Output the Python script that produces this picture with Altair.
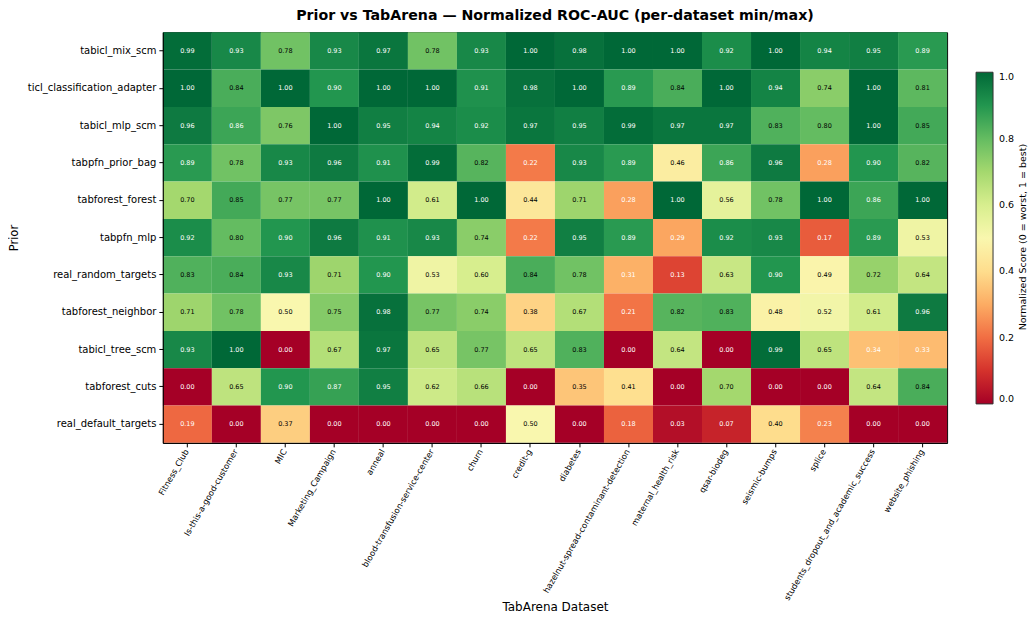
import altair as alt
import pandas as pd

datasets = ["Fitness_Club", "Is-this-a-good-customer", "MIC", "Marketing_Campaign", "anneal",
            "blood-transfusion-service-center", "churn", "credit-g", "diabetes",
            "hazelnut-spread-contaminant-detection", "maternal_health_risk", "qsar-biodeg",
            "seismic-bumps", "splice", "students_dropout_and_academic_success", "website_phishing"]

priors = ["tabicl_mix_scm", "ticl_classification_adapter", "tabicl_mlp_scm", "tabpfn_prior_bag",
          "tabforest_forest", "tabpfn_mlp", "real_random_targets", "tabforest_neighbor",
          "tabicl_tree_scm", "tabforest_cuts", "real_default_targets"]

tabicl_mix_scm = [0.99, 0.93, 0.78, 0.93, 0.97, 0.78, 0.93, 1.00, 0.98, 1.00, 1.00, 0.92, 1.00, 0.94, 0.95, 0.89]
ticl_classification_adapter = [1.00, 0.84, 1.00, 0.90, 1.00, 1.00, 0.91, 0.98, 1.00, 0.89, 0.84, 1.00, 0.94, 0.74, 1.00, 0.81]
tabicl_mlp_scm = [0.96, 0.86, 0.76, 1.00, 0.95, 0.94, 0.92, 0.97, 0.95, 0.99, 0.97, 0.97, 0.83, 0.80, 1.00, 0.85]
tabpfn_prior_bag = [0.89, 0.78, 0.93, 0.96, 0.91, 0.99, 0.82, 0.22, 0.93, 0.89, 0.46, 0.86, 0.96, 0.28, 0.90, 0.82]
tabforest_forest = [0.70, 0.85, 0.77, 0.77, 1.00, 0.61, 1.00, 0.44, 0.71, 0.28, 1.00, 0.56, 0.78, 1.00, 0.86, 1.00]
tabpfn_mlp = [0.92, 0.80, 0.90, 0.96, 0.91, 0.93, 0.74, 0.22, 0.95, 0.89, 0.29, 0.92, 0.93, 0.17, 0.89, 0.53]
real_random_targets = [0.83, 0.84, 0.93, 0.71, 0.90, 0.53, 0.60, 0.84, 0.78, 0.31, 0.13, 0.63, 0.90, 0.49, 0.72, 0.64]
tabforest_neighbor = [0.71, 0.78, 0.50, 0.75, 0.98, 0.77, 0.74, 0.38, 0.67, 0.21, 0.82, 0.83, 0.48, 0.52, 0.61, 0.96]
tabicl_tree_scm = [0.93, 1.00, 0.00, 0.67, 0.97, 0.65, 0.77, 0.65, 0.83, 0.00, 0.64, 0.00, 0.99, 0.65, 0.34, 0.33]
tabforest_cuts = [0.00, 0.65, 0.90, 0.87, 0.95, 0.62, 0.66, 0.00, 0.35, 0.41, 0.00, 0.70, 0.00, 0.00, 0.64, 0.84]
real_default_targets = [0.19, 0.00, 0.37, 0.00, 0.00, 0.00, 0.00, 0.50, 0.00, 0.18, 0.03, 0.07, 0.40, 0.23, 0.00, 0.00]

rows_values = [tabicl_mix_scm, ticl_classification_adapter, tabicl_mlp_scm, tabpfn_prior_bag,
               tabforest_forest, tabpfn_mlp, real_random_targets, tabforest_neighbor,
               tabicl_tree_scm, tabforest_cuts, real_default_targets]

colorbar_title = "Normalized Score (0 = worst, 1 = best)"
colorbar_ticks = [0, 0.2, 0.4, 0.6, 0.8, 1.0]

records = []
for p, vals in zip(priors, rows_values):
    for d, v in zip(datasets, vals):
        records.append({"prior": p, "dataset": d, "score": v, "label": f"{v:.2f}"})
df = pd.DataFrame(records)

FONT = "DejaVu Sans"

x_enc = alt.X("dataset:N", sort=datasets, title="TabArena Dataset",
              scale=alt.Scale(paddingInner=0, paddingOuter=0),
              axis=alt.Axis(labelAngle=300, labelAlign="right", labelBaseline="middle",
                            labelFontSize=8.3, titleFontSize=12, tickSize=4,
                            labelPadding=3, titleY=168, titleBaseline="alphabetic",
                            labelLimit=300))
y_enc = alt.Y("prior:N", sort=priors, title="Prior",
              scale=alt.Scale(paddingInner=0, paddingOuter=0),
              axis=alt.Axis(labelFontSize=10, titleFontSize=11.5, tickSize=4,
                            labelPadding=3, titlePadding=8, labelLimit=300))

heat = alt.Chart(df).mark_rect().encode(
    x=x_enc,
    y=y_enc,
    color=alt.Color("score:Q",
                    scale=alt.Scale(scheme="redyellowgreen", domain=[0, 1]),
                    legend=alt.Legend(title=None,
                                      orient="none", legendX=814, legendY=40,
                                      direction="vertical", gradientLength=332,
                                      gradientThickness=17, gradientStrokeColor="#333",
                                      gradientStrokeWidth=1,
                                      values=colorbar_ticks, format=".1f",
                                      labelFontSize=9.5, labelFont=FONT, labelColor="black",
                                      labelOffset=6)),
)

text = alt.Chart(df).mark_text(fontSize=6.5, font=FONT).encode(
    x=alt.X("dataset:N", sort=datasets),
    y=alt.Y("prior:N", sort=priors),
    text="label:N",
    color=alt.condition("datum.score < 0.345 || datum.score > 0.855",
                        alt.value("white"), alt.value("black")),
)

cbar_title = alt.Chart(pd.DataFrame({"t": [colorbar_title]})).mark_text(
    angle=270, fontSize=9.5, font=FONT, color="black", align="center", baseline="middle"
).encode(text="t:N", x=alt.value(861), y=alt.value(205))

chart = (heat + text + cbar_title).properties(
    width=785, height=411,
    title=alt.TitleParams("Prior vs TabArena — Normalized ROC-AUC (per-dataset min/max)",
                          fontSize=14.2, fontWeight="bold", font=FONT, anchor="middle",
                          offset=9, color="black"),
    autosize=alt.AutoSizeParams(type="none"),
    padding={"left": 155, "top": 24, "right": 81, "bottom": 170},
).configure_view(stroke="black", strokeWidth=1).configure_axis(
    labelFont=FONT, titleFont=FONT, labelColor="black", titleColor="black",
    domainColor="black", tickColor="black", titleFontWeight="normal", grid=False
)

chart.save("out.html", embed_options={"renderer": "svg", "actions": False})
